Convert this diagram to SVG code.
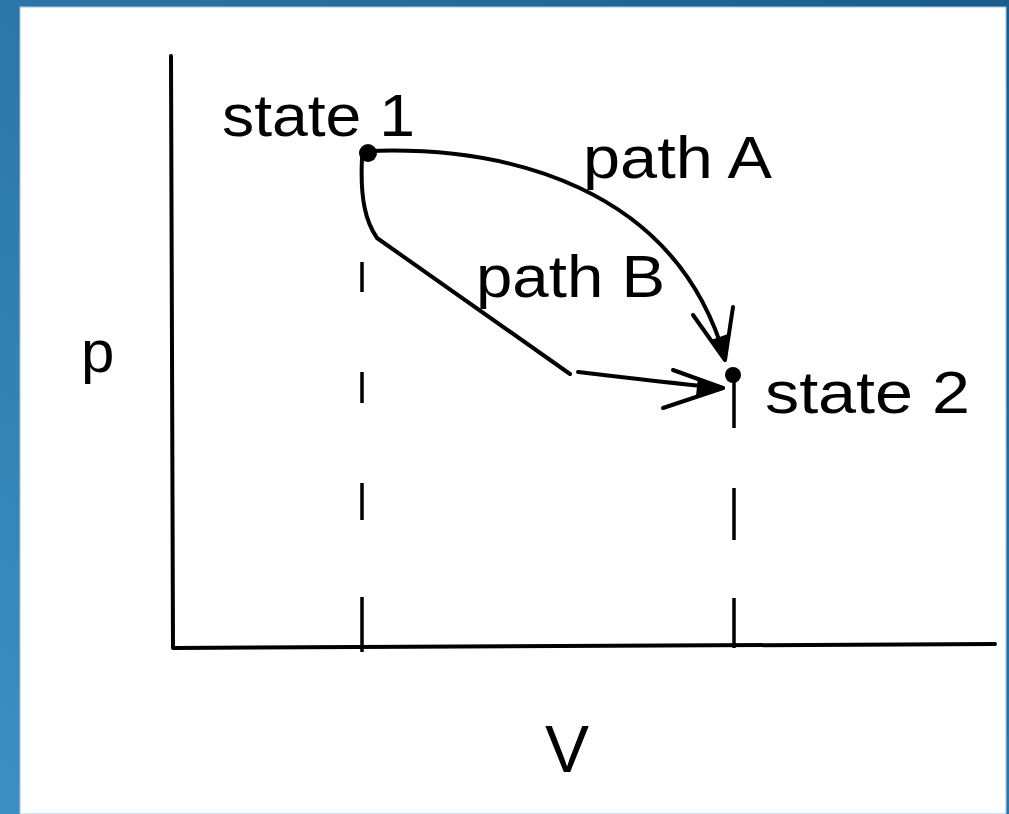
<svg xmlns="http://www.w3.org/2000/svg" width="1009" height="814" viewBox="0 0 1009 814">
<defs>
<linearGradient id="bg" x1="1" y1="0" x2="0" y2="1">
<stop offset="0" stop-color="#1a5d8a"/>
<stop offset="1" stop-color="#3c90c3"/>
</linearGradient>
</defs>
<style>
.ln{fill:none;stroke:#000;stroke-width:4;stroke-linecap:round;stroke-linejoin:round}
.dash{fill:none;stroke:#000;stroke-width:3.5}
.lbl{font-family:"Liberation Sans",Arial,sans-serif;font-size:60px;fill:#000}
.dot{fill:#000}
</style>
<rect x="0" y="0" width="1009" height="814" fill="url(#bg)"/>
<rect x="20" y="7" width="986" height="807" fill="#fff" stroke="#9cc8e6" stroke-width="1"/>
<g id="axes">
<path class="ln" d="M171,56 L173,648 L995,644"/>
<text class="lbl" x="81" y="372">p</text>
<text class="lbl" x="545" y="772" style="font-size:66px">V</text>
</g>
<g id="guides">
<path class="dash" d="M362,262 V292 M362,372 V403 M362,483 V520 M362,597 V652"/>
<path class="dash" d="M734,378 V428 M734,488 V540 M734,598 V648"/>
</g>
<g id="state1">
<circle class="dot" cx="368" cy="153" r="9"/>
<text class="lbl" x="222" y="136" textLength="193" lengthAdjust="spacingAndGlyphs">state 1</text>
</g>
<g id="state2">
<circle class="dot" cx="733" cy="375" r="8"/>
<text class="lbl" x="765" y="413" textLength="205" lengthAdjust="spacingAndGlyphs">state 2</text>
</g>
<g id="connectors">
<g id="pathA">
<path class="ln" d="M368,151 C505,146 675,185 725,358"/>
<path class="ln" d="M693,315 L725,360 L733,307"/>
<path class="dot" d="M711,340 L725,360 L728,334 Z"/>
<text class="lbl" x="583" y="178" textLength="189" lengthAdjust="spacingAndGlyphs">path A</text>
</g>
<g id="pathB">
<path class="ln" d="M362,158 C360,200 366,222 377,238 L570,374"/>
<path class="ln" d="M578,372 C630,378 680,384 723,388"/>
<path class="ln" d="M673,370 L723,388 L663,408"/>
<path class="dot" d="M698,377 L723,388 L696,396 Z"/>
<text class="lbl" x="476" y="297" textLength="189" lengthAdjust="spacingAndGlyphs">path B</text>
</g>
</g>
</svg>
